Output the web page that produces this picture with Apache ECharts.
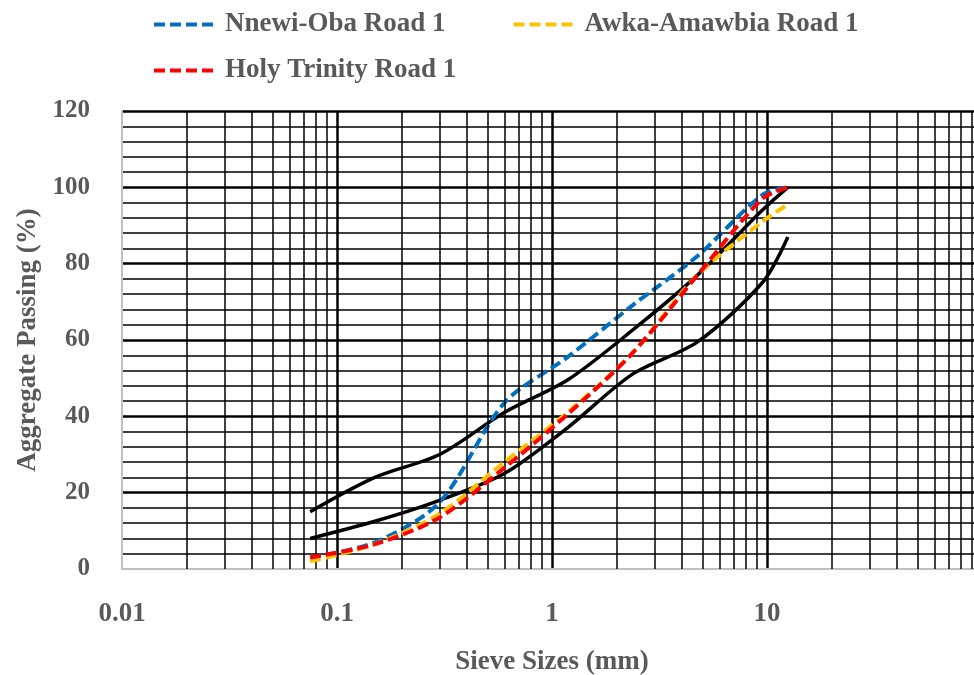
<!DOCTYPE html>
<html>
<head>
<meta charset="utf-8">
<script src="https://cdn.jsdelivr.net/npm/echarts@6/dist/echarts.min.js"></script>
<style>
html,body{margin:0;padding:0;background:#fff;}
#chart{width:974px;height:675px;}
</style>
</head>
<body>
<div id="chart"></div>
<script>
// Sieve sizes (mm)
var sieveSizes = [0.075, 0.15, 0.3, 0.6, 1.18, 2.36, 4.75, 9.5, 12.5];
// Percent passing
var nnewiOba   = [3, 7, 17.5, 43.5, 55.5, 69, 82, 98, 100];
var awkaAmawbia = [2, 6.5, 14.5, 28, 41, 56.5, 77, 91, 95.5];
var holyTrinity = [3, 6.5, 13.5, 26.5, 40.5, 56.5, 77, 97, 100];
var upperLimit = [15, 24, 30, 41, 49.5, 62.5, 77, 94, 100];
var lowerLimit = [8, 12.5, 18, 25, 37, 51, 59.5, 75, 87];
var seriesNames = ['Nnewi-Oba Road 1', 'Awka-Amawbia Road 1', 'Holy Trinity Road 1'];
var xTickLabels = ['0.01', '0.1', '1', '10'];

function pairs(ys) { return sieveSizes.map(function (x, i) { return [x, ys[i]]; }); }

// minor log grid positions (2..9 in each decade)
var minorX = [];
[0.01, 0.1, 1, 10].forEach(function (d) {
  for (var k = 2; k <= 9; k++) minorX.push({ xAxis: +(d * k).toPrecision(6) });
});

var FONT = '"Liberation Serif", "Times New Roman", serif';
var GRAY = '#595959';
var dash = [11, 5];

var chart = echarts.init(document.getElementById('chart'), null, { renderer: 'canvas' });
chart.setOption({
  animation: false,
  backgroundColor: '#fff',
  grid: { left: 122, width: 860, top: 111, height: 458, containLabel: false, outerBoundsMode: 'none' },
  legend: [
    {
      data: [seriesNames[0], seriesNames[1]],
      left: 147, top: 6, itemWidth: 64, itemHeight: 14, itemGap: 66,
      itemStyle: { opacity: 0 },
      lineStyle: { width: 4, type: dash },
      textStyle: { fontFamily: FONT, fontWeight: 'bold', fontSize: 27, color: GRAY, padding: [0, 0, 0, 2] }
    },
    {
      data: [seriesNames[2]],
      left: 147, top: 52, itemWidth: 64, itemHeight: 14,
      itemStyle: { opacity: 0 },
      lineStyle: { width: 4, type: dash },
      textStyle: { fontFamily: FONT, fontWeight: 'bold', fontSize: 27, color: GRAY, padding: [0, 0, 0, 2] }
    }
  ],
  xAxis: {
    type: 'log', logBase: 10, min: 0.01, max: 100,
    name: 'Sieve Sizes (mm)', nameLocation: 'middle', nameGap: 80,
    nameTextStyle: { fontFamily: FONT, fontWeight: 'bold', fontSize: 27, color: GRAY },
    axisLine: { show: true, lineStyle: { color: '#bfbfbf', width: 2 } },
    axisTick: { show: false },
    axisLabel: {
      fontFamily: FONT, fontWeight: 'bold', fontSize: 27, color: GRAY, margin: 32,
      showMaxLabel: false,
      formatter: function (v) {
        var i = Math.round(Math.log10(v)) + 2;
        return xTickLabels[i] !== undefined ? xTickLabels[i] : '';
      }
    },
    splitLine: { show: true, showMinLine: false, lineStyle: { color: '#000', width: 2.5 } }
  },
  yAxis: {
    type: 'value', min: 0, max: 120, interval: 20,
    name: 'Aggregate Passing (%)', nameLocation: 'middle', nameGap: 68, nameRotate: 90,
    nameTextStyle: { fontFamily: FONT, fontWeight: 'bold', fontSize: 27, color: GRAY },
    axisLine: { show: true, lineStyle: { color: '#bfbfbf', width: 2 } },
    axisTick: { show: false },
    axisLabel: { fontFamily: FONT, fontWeight: 'bold', fontSize: 25, color: GRAY, margin: 32, padding: [6, 0, 0, 0] },
    splitLine: { show: true, showMinLine: false, lineStyle: { color: '#000', width: 2.5 } },
    minorTick: { show: false, splitNumber: 5 },
    minorSplitLine: { show: true, lineStyle: { color: '#000', width: 1.5 } }
  },
  series: [
    {
      name: 'grid-minor', type: 'line', data: [], silent: true, z: 1,
      markLine: {
        silent: true, symbol: 'none', animation: false,
        label: { show: false },
        lineStyle: { color: '#000', width: 1.5, type: 'solid' },
        emphasis: { disabled: true },
        data: minorX
      }
    },
    {
      name: 'Upper Limit', type: 'line', data: pairs(upperLimit), symbol: 'none', smooth: 0.3, z: 3,
      lineStyle: { color: '#000', width: 3.5, type: 'solid' }
    },
    {
      name: 'Lower Limit', type: 'line', data: pairs(lowerLimit), symbol: 'none', smooth: 0.3, z: 3,
      lineStyle: { color: '#000', width: 3.5, type: 'solid' }
    },
    {
      name: seriesNames[0], type: 'line', data: pairs(nnewiOba), symbol: 'none', smooth: 0.3, z: 4,
      color: '#0070C0',
      lineStyle: { color: '#0070C0', width: 4, type: dash }
    },
    {
      name: seriesNames[1], type: 'line', data: pairs(awkaAmawbia), symbol: 'none', smooth: 0.3, z: 5,
      color: '#FFC000',
      lineStyle: { color: '#FFC000', width: 4, type: dash }
    },
    {
      name: seriesNames[2], type: 'line', data: pairs(holyTrinity), symbol: 'none', smooth: 0.3, z: 6,
      color: '#FF0000',
      lineStyle: { color: '#FF0000', width: 4, type: dash }
    }
  ]
});
</script>
</body>
</html>
